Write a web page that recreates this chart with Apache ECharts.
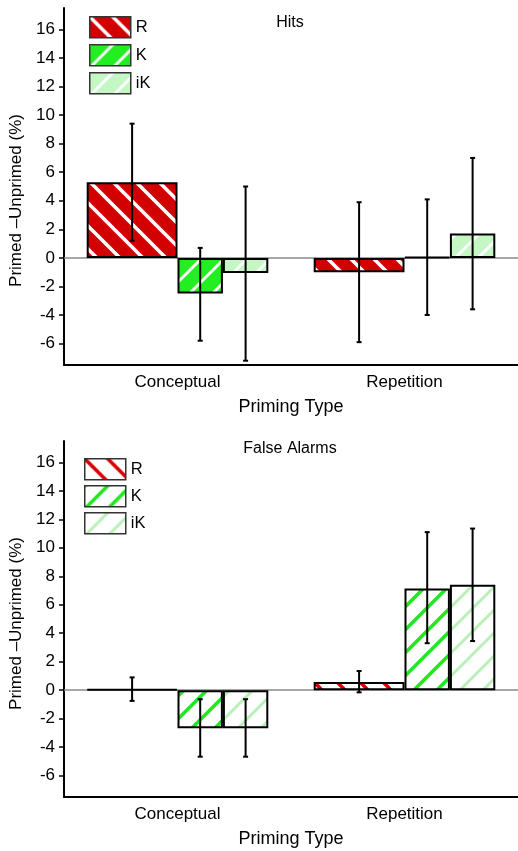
<!DOCTYPE html>
<html><head><meta charset="utf-8">
<script src="https://cdn.jsdelivr.net/npm/echarts@6/dist/echarts.min.js"></script>
<style>html,body{margin:0;padding:0;background:#fff}#c{width:518px;height:851px}</style>
</head><body><div id="c"></div>
<script>
// ---- data ----
const categories = ['Conceptual', 'Repetition'];
const legendNames = ['R', 'K', 'iK'];
const yTicks = [-6, -4, -2, 0, 2, 4, 6, 8, 10, 12, 14, 16];
const panelTitles = ['Hits', 'False Alarms'];

const hitsR = [5.3, -1.0];
const hitsK = [-2.5, 0.05];
const hitsIK = [-1.05, 1.7];
const hitsRErr = [[1.2, 9.4], [-5.9, 3.9]];
const hitsKErr = [[-5.8, 0.7], [-4.0, 4.1]];
const hitsIKErr = [[-7.2, 5.0], [-3.6, 7.0]];

const faR = [0.08, 0.58];
const faK = [-2.67, 7.15];
const faIK = [-2.67, 7.4];
const faRErr = [[-0.75, 0.9], [-0.15, 1.35]];
const faKErr = [[-4.67, -0.63], [3.3, 11.1]];
const faIKErr = [[-4.67, -0.63], [3.45, 11.35]];

// ---- styling helpers ----
const FONT = '"Liberation Sans", Arial, Helvetica, sans-serif';
function stripes(bg, fg, w, dir) {
  const p = 23, c = document.createElement('canvas');
  c.width = p; c.height = p;
  const g = c.getContext('2d');
  g.fillStyle = bg; g.fillRect(0, 0, p, p);
  g.strokeStyle = fg; g.lineWidth = w;
  for (let k = -1; k <= 1; k++) {
    g.beginPath();
    if (dir === 'back') { g.moveTo(k * p - 3, -3); g.lineTo(k * p + p + 3, p + 3); }
    else { g.moveTo(k * p - 3, p + 3); g.lineTo(k * p + p + 3, -3); }
    g.stroke();
  }
  return { image: c, repeat: 'repeat' };
}
const fills = [
  [stripes('#d20000', '#ffffff', 3.5, 'back'), stripes('#22ee22', '#ffffff', 3, 'fwd'), stripes('#c4f7c4', '#ffffff', 3, 'fwd')],
  [stripes('#ffffff', '#d80000', 3.5, 'back'), stripes('#ffffff', '#22e622', 3.5, 'fwd'), stripes('#ffffff', '#b8f0b8', 3, 'fwd')]
];
const barWidths = ['40%', '20%', '20%'];
const errOffsets = [-0.2, 0.1, 0.3];

const panels = [
  { vals: [hitsR, hitsK, hitsIK], errs: [hitsRErr, hitsKErr, hitsIKErr], prefix: 'Hits ' },
  { vals: [faR, faK, faIK], errs: [faRErr, faKErr, faIKErr], prefix: 'FA ' }
];

const series = [];
panels.forEach((pn, gi) => {
  pn.vals.forEach((v, si) => {
    const s = {
      type: 'bar', name: pn.prefix + legendNames[si], xAxisIndex: gi, yAxisIndex: gi,
      data: v, barWidth: barWidths[si], barGap: '0%',
      itemStyle: { color: fills[gi][si], borderColor: '#000', borderWidth: 2 },
      emphasis: { disabled: true }, z: 3
    };
    if (si === 0) {
      s.markLine = { silent: true, symbol: ['none', 'none'], label: { show: false },
        lineStyle: { color: '#888', width: 1.5, type: 'solid' }, data: [{ yAxis: 0 }], z: 1 };
    }
    series.push(s);
  });
  pn.errs.forEach((e, si) => {
    const off = errOffsets[si];
    series.push({
      type: 'custom', name: pn.prefix + 'err' + si, xAxisIndex: gi, yAxisIndex: gi, z: 10,
      data: e.map((d, ci) => [ci, d[0], d[1]]),
      renderItem: (params, api) => {
        const band = api.size([1, 0])[0];
        const x = api.coord([api.value(0), 0])[0] + off * band;
        const yLo = api.coord([api.value(0), api.value(1)])[1];
        const yHi = api.coord([api.value(0), api.value(2)])[1];
        const st = { stroke: '#000', lineWidth: 2 };
        return { type: 'group', children: [
          { type: 'line', shape: { x1: x, y1: yLo, x2: x, y2: yHi }, style: st },
          { type: 'line', shape: { x1: x - 2.5, y1: yHi, x2: x + 2.5, y2: yHi }, style: st },
          { type: 'line', shape: { x1: x - 2.5, y1: yLo, x2: x + 2.5, y2: yLo }, style: st }
        ] };
      }
    });
  });
});

const grids = [{ left: 64, top: 8, width: 456, height: 357 }, { left: 64, top: 441, width: 456, height: 356 }];
const namePads = [[0, 28, 0, 0], [0, 9, 0, 0]];

const option = {
  animation: false,
  textStyle: { fontFamily: FONT },
  title: panelTitles.map((t, i) => ({
    text: t, left: 285, top: i === 0 ? 10 : 436, textAlign: 'center',
    textStyle: { fontSize: 16, fontWeight: 'normal', color: '#000', fontFamily: FONT }
  })),
  legend: [
    { left: 89, top: 16, orient: 'vertical' },
    { left: 84, top: 458, orient: 'vertical' }
  ].map((l, i) => Object.assign(l, {
    data: legendNames.map(n => panels[i].prefix + n),
    formatter: n => n.slice(panels[i].prefix.length),
    icon: 'rect', itemWidth: 41, itemHeight: 21, itemGap: i === 0 ? 5.5 : 4.5,
    padding: 0, selectedMode: false,
    itemStyle: { borderColor: '#333', borderWidth: 1.5 },
    textStyle: { fontSize: 16.5, color: '#000', fontFamily: FONT, lineHeight: 21 }
  })),
  grid: grids,
  xAxis: grids.map((g, i) => ({
    type: 'category', gridIndex: i, data: categories,
    axisLine: { onZero: false, lineStyle: { color: '#000', width: 2 } },
    axisTick: { alignWithLabel: true, inside: true, length: 5, lineStyle: { color: '#000', width: 1 } },
    axisLabel: { fontSize: 17, color: '#000', margin: 9, fontFamily: FONT },
    name: 'Priming Type', nameLocation: 'middle', nameGap: 33,
    nameTextStyle: { fontSize: 18, color: '#000', fontFamily: FONT }
  })),
  yAxis: grids.map((g, i) => ({
    type: 'value', gridIndex: i, min: -7.5, max: 17.5,
    axisLine: { show: true, lineStyle: { color: '#000', width: 2 } },
    axisTick: { show: true, customValues: yTicks, length: 5, lineStyle: { color: '#000', width: 1.5 } },
    axisLabel: { customValues: yTicks, fontSize: 17, color: '#000', margin: 9, fontFamily: FONT },
    splitLine: { show: false },
    name: 'Primed \u2013Unprimed (%)', nameLocation: 'middle', nameGap: 38,
    nameTextStyle: { fontSize: 17, color: '#000', fontFamily: FONT, padding: namePads[i] }
  })),
  series: series
};
const chart = echarts.init(document.getElementById('c'), null, { renderer: 'canvas' });
chart.setOption(option);
</script></body></html>
